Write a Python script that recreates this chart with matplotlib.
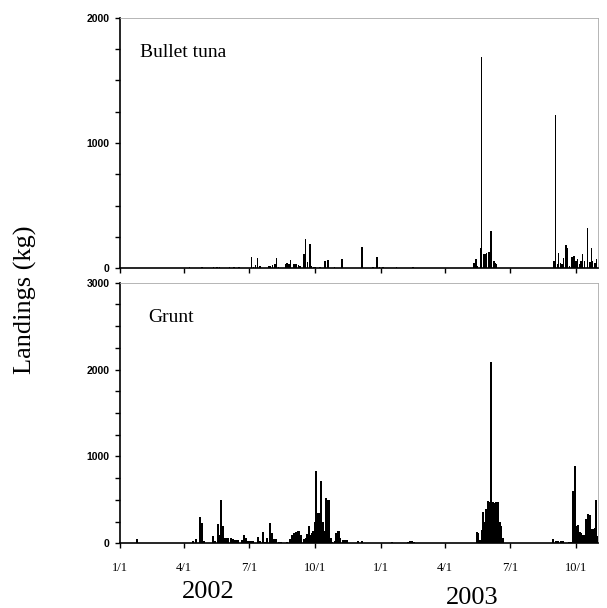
import numpy as np
import matplotlib
matplotlib.use("Agg")
from matplotlib import pyplot as plt
from matplotlib.ticker import MultipleLocator, NullFormatter

# days counted from 1 Jan 2002
bt_day = [98, 115, 131, 136, 140, 154, 160, 167,
          184, 187, 190, 193, 196, 209, 211, 214, 217, 219, 222,
          232, 234, 237, 239, 243, 245, 247, 250, 252,
          258, 260, 263, 266, 268, 271, 273, 280, 287, 291, 300, 311,
          339, 354, 360, 363, 368, 387, 396, 410,
          495, 498, 500, 504, 506, 509, 511, 513, 516, 519, 520, 523, 525, 527,
          606, 607, 609, 612, 613, 616, 618, 620, 624, 626, 629, 632, 635,
          638, 640, 643, 645, 647, 650, 654, 657, 659, 661, 664, 666]
bt_kg = [6, 5, 8, 8, 6, 10, 12, 10,
         88, 12, 25, 80, 15, 15, 20, 28, 32, 80, 10,
         35, 40, 30, 67, 30, 35, 30, 25, 20,
         110, 232, 50, 195, 15, 10, 8, 5, 60, 62, 8, 72,
         168, 5, 88, 10, 5, 5, 3, 8,
         40, 75, 20, 163, 1690, 110, 115, 120, 130, 296, 160, 60, 40, 30,
         20, 60, 1221, 30, 120, 40, 30, 80, 187, 160, 20, 90, 100,
         60, 70, 30, 60, 110, 60, 323, 50, 160, 60, 40, 70]

gr_day = [24,
          103, 107, 112, 115, 118,
          131, 133, 137, 139, 142, 145, 148, 152, 156, 159, 162, 166, 171,
          174, 177, 180, 183, 187,
          194, 196, 200, 203, 206, 210, 213, 216, 219, 223, 226,
          234, 238, 241, 244, 246, 250, 252, 254, 258, 260, 262, 265, 267,
          269, 271, 273, 275, 278, 279, 282, 284, 286, 289, 292, 295, 297,
          301, 303, 306, 308, 312, 315, 318, 333, 339,
          381, 403, 406, 409, 412,
          499, 501, 504, 506, 508, 511, 512, 515, 517, 519, 522, 524, 526,
          529, 531, 533, 535,
          606, 610, 613, 617, 620, 628, 631, 633, 636, 638, 640, 643, 645,
          647, 650, 652, 654, 657, 659, 661, 664, 666, 668]
gr_kg = [55,
         25, 50, 307, 230, 30,
         88, 30, 222, 100, 499, 200, 60, 60, 60, 50, 40, 40, 40,
         96, 60, 30, 30, 30,
         70, 30, 134, 20, 60, 238, 120, 50, 50, 20, 20,
         20, 50, 100, 120, 130, 140, 100, 90, 50, 60, 110, 200, 100,
         120, 140, 250, 836, 350, 250, 721, 240, 140, 526, 499, 60, 20,
         30, 120, 142, 60, 40, 40, 40, 25, 30,
         15, 20, 25, 25, 15,
         127, 120, 40, 150, 357, 250, 399, 487, 480, 2091, 480, 460, 470,
         470, 240, 200, 60,
         50, 30, 30, 30, 30, 15, 20, 606, 890, 200, 211, 130, 120,
         100, 90, 276, 334, 330, 170, 170, 180, 499, 80]

tick_day = [0, 90, 181, 273, 365, 455, 546, 638]
tick_lab = ['1/1', '4/1', '7/1', '10/1', '1/1', '4/1', '7/1', '10/1']

fig = plt.figure(figsize=(6.07, 6.08), dpi=100)
ax1 = fig.add_axes([0.1969, 0.5592, 0.7883, 0.4112])
ax2 = fig.add_axes([0.1969, 0.1064, 0.7883, 0.4286])


def style(ax, ymax, name, ty, tx):
	ax.set_xlim(0, 668.5)
	ax.set_ylim(0, ymax)
	for s in ['left', 'bottom']:
		ax.spines[s].set_color('black')
		ax.spines[s].set_linewidth(1.2)
	for s in ['top', 'right']:
		ax.spines[s].set_color('#aaaaaa')
		ax.spines[s].set_linewidth(0.6)
	ax.yaxis.set_major_locator(MultipleLocator(1000))
	ax.yaxis.set_minor_locator(MultipleLocator(250))
	ax.yaxis.set_minor_formatter(NullFormatter())
	ax.set_xticks(tick_day)
	ax.tick_params(axis='both', which='both', direction='out', length=3.5,
	               width=1, color='black')
	for lab in ax.get_yticklabels():
		lab.set_fontfamily('Liberation Sans')
		lab.set_fontweight('bold')
		lab.set_fontsize(7.5)
	ax.text(tx, ty, name, transform=ax.transAxes, fontsize=14,
	        family='Liberation Serif', ha='left', va='baseline')


ax1.bar(bt_day, bt_kg, width=2.0, color='black', linewidth=0)
ax2.bar(gr_day, gr_kg, width=3.0, color='black', linewidth=0)

style(ax1, 2000, 'Bullet tuna', 0.844, 0.043)
style(ax2, 3000, 'Grunt', 0.849, 0.06)

ax1.set_xticklabels([])
ax2.set_xticklabels(tick_lab, family='Liberation Serif', fontsize=9)
ax2.tick_params(axis='x', pad=10)

fig.text(25 / 607, 1 - 300 / 608, 'Landings (kg)', rotation=90,
         family='Liberation Serif', fontsize=19, ha='center', va='center')
fig.text(208 / 607, 1 - 592 / 608, '2002', family='Liberation Serif',
         fontsize=19, ha='center', va='center')
fig.text(472 / 607, 1 - 597.5 / 608, '2003', family='Liberation Serif',
         fontsize=19, ha='center', va='center')

plt.savefig('out.png', dpi=100)
